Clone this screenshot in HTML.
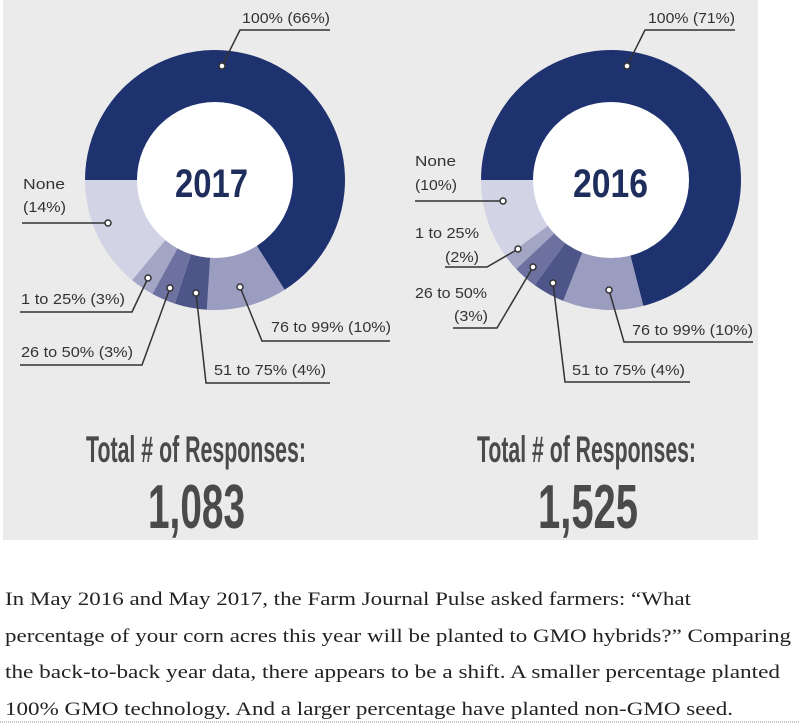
<!DOCTYPE html>
<html><head><meta charset="utf-8"><style>
html,body{margin:0;padding:0;background:#fff;width:800px;height:725px;overflow:hidden}
svg{display:block}
.lbl{font-family:"Liberation Sans Narrow","Liberation Sans",sans-serif;font-size:15px;fill:#333}
.tot{font-family:"Liberation Sans Narrow","Liberation Sans",sans-serif;fill:#4a4a4a;font-weight:bold}
.yr{font-family:"Liberation Sans Narrow","Liberation Sans",sans-serif;fill:#1f2d5c;font-size:40px;font-weight:bold}
.para{font-family:"Liberation Serif",serif;font-size:19px;fill:#222}
</style></head><body>
<svg id="chart" width="800" height="725" viewBox="0 0 800 725">
<rect x="3" y="0" width="755" height="540" fill="#ebebeb"/>
<g id="slices"></g>
<circle cx="215" cy="180" r="78" fill="#fff"/>
<circle cx="611" cy="180" r="78" fill="#fff"/>
<text class="yr" x="175" y="197" textLength="73" lengthAdjust="spacingAndGlyphs">2017</text>
<text class="yr" x="573" y="197" textLength="75" lengthAdjust="spacingAndGlyphs">2016</text>

<g fill="none" stroke="#333" stroke-width="1.5">
<polyline points="330,30 240,30 222,66"/>
<polyline points="22,223 108,223"/>
<polyline points="20,312 132,312 148,278"/>
<polyline points="20,365 142,365 170,288"/>
<polyline points="330,383 206,383 196,293"/>
<polyline points="390,341 262,341 240,287"/>
<polyline points="735,30 645,30 627,66"/>
<polyline points="415,201 503,201"/>
<polyline points="445,267 487,267 518,249"/>
<polyline points="453,328 497,328 533,267"/>
<polyline points="690,382 565,382 553,283"/>
<polyline points="753,342 624,342 609,290"/>
</g>
<g fill="#fff" stroke="#333" stroke-width="1.5">
<circle cx="222" cy="66" r="3"/><circle cx="108" cy="223" r="3"/><circle cx="148" cy="278" r="3"/>
<circle cx="170" cy="288" r="3"/><circle cx="196" cy="293" r="3"/><circle cx="240" cy="287" r="3"/>
<circle cx="627" cy="66" r="3"/><circle cx="503" cy="201" r="3"/><circle cx="518" cy="249" r="3"/>
<circle cx="533" cy="267" r="3"/><circle cx="553" cy="283" r="3"/><circle cx="609" cy="290" r="3"/>
</g>
<g>
<text class="lbl" x="242" y="23" textLength="88" lengthAdjust="spacingAndGlyphs">100% (66%)</text>
<text class="lbl" x="23" y="189" textLength="42" lengthAdjust="spacingAndGlyphs">None</text>
<text class="lbl" x="23" y="212" textLength="43" lengthAdjust="spacingAndGlyphs">(14%)</text>
<text class="lbl" x="21" y="304" textLength="104" lengthAdjust="spacingAndGlyphs">1 to 25% (3%)</text>
<text class="lbl" x="21" y="357" textLength="112" lengthAdjust="spacingAndGlyphs">26 to 50% (3%)</text>
<text class="lbl" x="214" y="375" textLength="112" lengthAdjust="spacingAndGlyphs">51 to 75% (4%)</text>
<text class="lbl" x="271" y="332" textLength="120" lengthAdjust="spacingAndGlyphs">76 to 99% (10%)</text>
<text class="lbl" x="648" y="23" textLength="87" lengthAdjust="spacingAndGlyphs">100% (71%)</text>
<text class="lbl" x="415" y="166" textLength="41" lengthAdjust="spacingAndGlyphs">None</text>
<text class="lbl" x="415" y="190" textLength="42" lengthAdjust="spacingAndGlyphs">(10%)</text>
<text class="lbl" x="415" y="238" textLength="64" lengthAdjust="spacingAndGlyphs">1 to 25%</text>
<text class="lbl" x="445" y="262" textLength="34" lengthAdjust="spacingAndGlyphs">(2%)</text>
<text class="lbl" x="415" y="298" textLength="72" lengthAdjust="spacingAndGlyphs">26 to 50%</text>
<text class="lbl" x="454" y="321" textLength="34" lengthAdjust="spacingAndGlyphs">(3%)</text>
<text class="lbl" x="572" y="375" textLength="113" lengthAdjust="spacingAndGlyphs">51 to 75% (4%)</text>
<text class="lbl" x="632" y="335" textLength="121" lengthAdjust="spacingAndGlyphs">76 to 99% (10%)</text>
</g>
<text class="tot" x="86" y="462" font-size="37" textLength="220" lengthAdjust="spacingAndGlyphs">Total # of Responses:</text>
<text class="tot" x="148" y="528" font-size="62" textLength="97" lengthAdjust="spacingAndGlyphs">1,083</text>
<text class="tot" x="477" y="462" font-size="37" textLength="219" lengthAdjust="spacingAndGlyphs">Total # of Responses:</text>
<text class="tot" x="538" y="528" font-size="62" textLength="100" lengthAdjust="spacingAndGlyphs">1,525</text>
<g>
<text class="para" x="5" y="605" textLength="686" lengthAdjust="spacingAndGlyphs">In May 2016 and May 2017, the Farm Journal Pulse asked farmers: “What</text>
<text class="para" x="5" y="642" textLength="786" lengthAdjust="spacingAndGlyphs">percentage of your corn acres this year will be planted to GMO hybrids?” Comparing</text>
<text class="para" x="5" y="678" textLength="775" lengthAdjust="spacingAndGlyphs">the back-to-back year data, there appears to be a shift. A smaller percentage planted</text>
<text class="para" x="5" y="715" textLength="728" lengthAdjust="spacingAndGlyphs">100% GMO technology. And a larger percentage have planted non-GMO seed.</text>
<line x1="0" y1="722" x2="800" y2="722" stroke="#888" stroke-width="1" stroke-dasharray="1,1"/>
</g>
</svg>
<script>
const categories = ["100%", "76 to 99%", "51 to 75%", "26 to 50%", "1 to 25%", "None"];
const values2017 = [66, 10, 4, 3, 3, 14];
const values2016 = [71, 10, 4, 3, 2, 10];
const sliceColors = ["#1f3270", "#9a9cc0", "#4e5589", "#6c71a0", "#a3a5c5", "#d3d3e6"];
const NS = "http://www.w3.org/2000/svg";
function angleScale(v, total){ return v / total * 2 * Math.PI; }
function pt(cx, cy, r, a){ return [cx + r*Math.sin(a), cy - r*Math.cos(a)]; }
function drawDonut(vals, cx, cy, year){
  const g = document.getElementById('slices');
  const total = vals.reduce((a,b)=>a+b,0);
  let a0 = 1.5*Math.PI;
  const R = 130;
  vals.forEach((v,i)=>{
    const a1 = a0 + angleScale(v,total);
    const p0 = pt(cx,cy,R,a0), p1 = pt(cx,cy,R,a1);
    const large = (a1-a0) > Math.PI ? 1 : 0;
    const path = document.createElementNS(NS,'path');
    path.setAttribute('d',`M${cx},${cy} L${p0[0]},${p0[1]} A${R},${R} 0 ${large} 1 ${p1[0]},${p1[1]} Z`);
    path.setAttribute('fill',sliceColors[i]);
    
    
    path.setAttribute('id','slice-'+year+'-'+i);
    g.appendChild(path);
    a0 = a1;
  });
}
drawDonut(values2017, 215, 180, 2017);
drawDonut(values2016, 611, 180, 2016);
</script>
</body></html>
